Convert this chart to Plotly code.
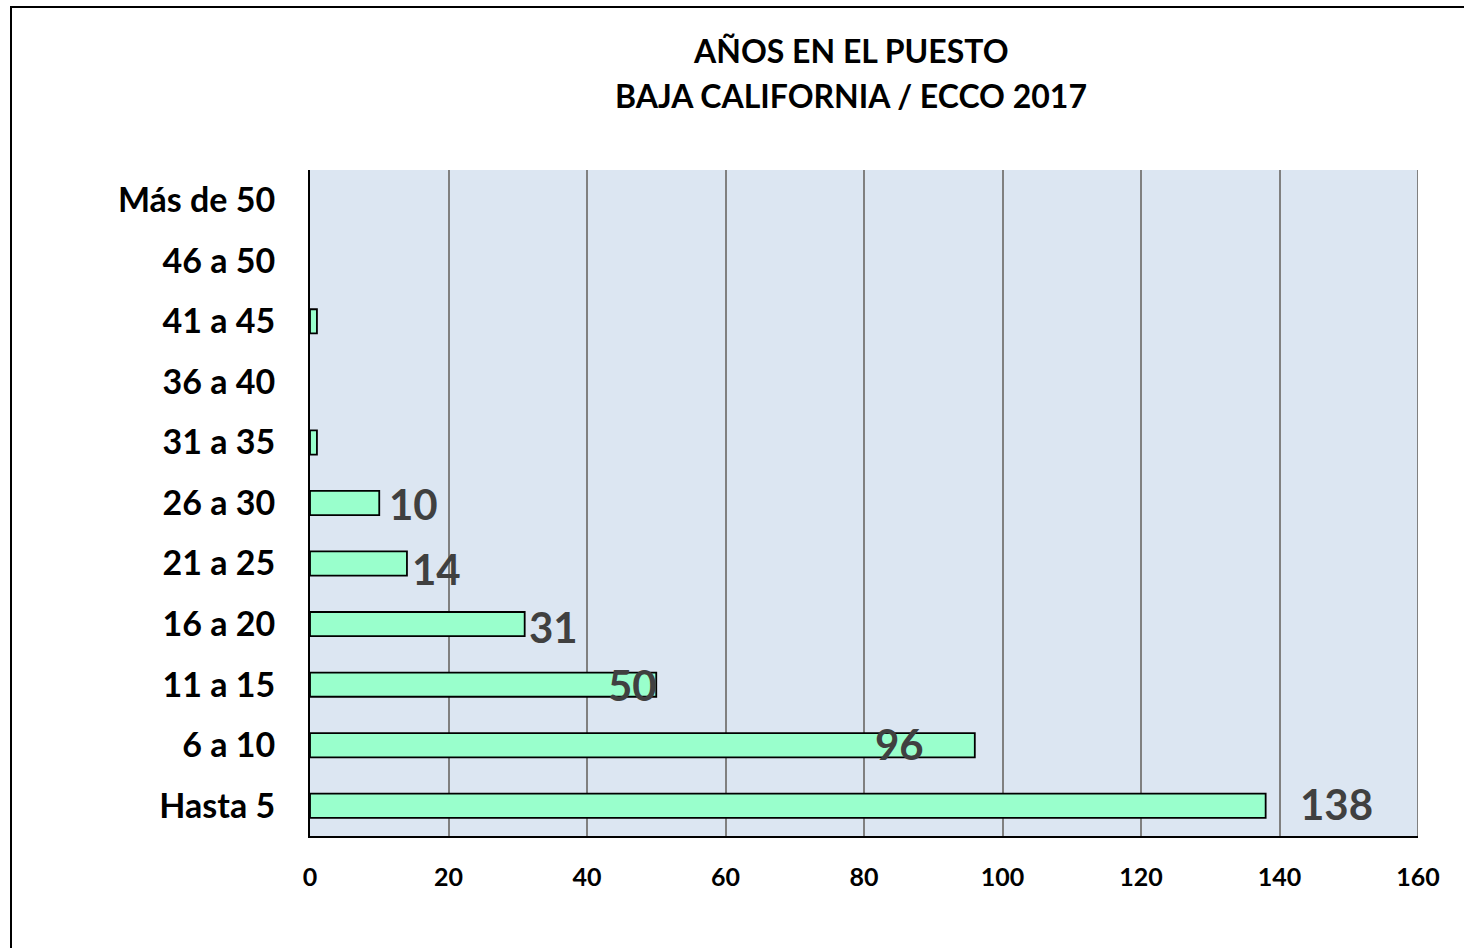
import plotly.graph_objects as go

categories = ["Hasta 5", "6 a 10", "11 a 15", "16 a 20", "21 a 25", "26 a 30",
              "31 a 35", "36 a 40", "41 a 45", "46 a 50", "Más de 50"]
values = [138, 96, 50, 31, 14, 10, 1, 0, 1, 0, 0]
x_ticks = [0, 20, 40, 60, 80, 100, 120, 140, 160]
title_lines = ["AÑOS EN EL PUESTO", "BAJA CALIFORNIA / ECCO 2017"]

# label offsets (px) for data labels, matching the reference placement
label_xshift = [71, -75, -24, 29, 30, 34]
label_yshift = [2, 1, 0, -3, -5, -1]

FONT = "Lato"
W, H = 1464, 948
L, R, T, B = 310, 46, 170, 112
PW, PH = W - L - R, H - T - B


def px_x(px):
    return (px - L) / PW


def px_y(py):
    return (H - B - py) / PH


fig = go.Figure()
fig.add_trace(go.Bar(
    y=categories, x=values, orientation="h",
    marker=dict(color="#99FFCC",
                line=dict(color="#000000",
                          width=[1.8 if v > 0 else 0 for v in values])),
    width=0.4, hoverinfo="x+y",
))

annotations = []
for i, (c, v) in enumerate(zip(categories, values)):
    if v >= 10:
        annotations.append(dict(
            x=v, y=c, xref="x", yref="y", text=str(v), showarrow=False,
            xanchor="center", yanchor="middle",
            xshift=label_xshift[i], yshift=label_yshift[i],
            font=dict(family=FONT, size=42, color="#404040", weight="bold"),
        ))

for line, py in zip(title_lines, [50, 96]):
    annotations.append(dict(
        x=px_x(851), y=px_y(py), xref="paper", yref="paper", text=line,
        showarrow=False, xanchor="center", yanchor="middle",
        font=dict(family=FONT, size=32, color="#000000", weight="bold"),
    ))

fig.update_layout(
    width=W, height=H,
    margin=dict(l=L, r=R, t=T, b=B),
    paper_bgcolor="white", plot_bgcolor="#DCE6F2",
    showlegend=False,
    xaxis=dict(
        range=[0, 160], tickvals=x_ticks, ticktext=[str(t) for t in x_ticks],
        showgrid=True, gridcolor="#808080", gridwidth=1.5,
        showline=True, linecolor="#000000", linewidth=2,
        zeroline=False, ticks="", ticklabelstandoff=18,
        tickfont=dict(family=FONT, size=25, color="#000000", weight="bold"),
        fixedrange=True,
    ),
    yaxis=dict(
        categoryorder="array", categoryarray=categories,
        showgrid=False, showline=True, linecolor="#000000", linewidth=2,
        ticks="", ticklabelstandoff=26,
        tickfont=dict(family=FONT, size=34, color="#000000", weight="bold"),
        fixedrange=True,
    ),
    annotations=annotations,
    shapes=[
        dict(type="line", xref="x", yref="paper", x0=x_ticks[-1], x1=x_ticks[-1],
             y0=0, y1=1, line=dict(color="#808080", width=2), layer="below"),
        dict(type="rect", xref="paper", yref="paper",
             x0=px_x(11), x1=1.2, y0=-0.4, y1=px_y(7),
             line=dict(color="#000000", width=2), fillcolor="rgba(0,0,0,0)",
             layer="above"),
    ],
)

fig.write_html("out.html")
